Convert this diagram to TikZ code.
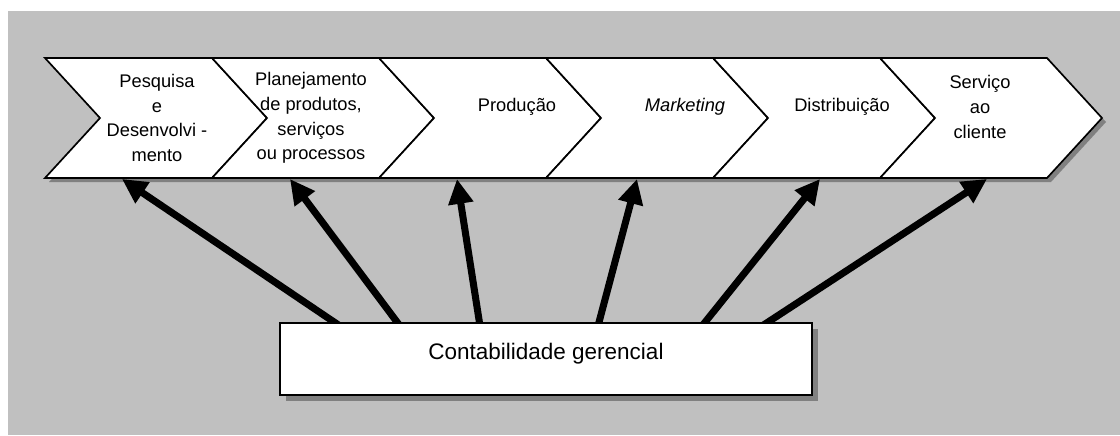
\documentclass[tikz,border=0pt]{standalone}
\usepackage{fontspec}
\setmainfont{Liberation Sans}
\usetikzlibrary{arrows.meta}
\definecolor{fundo}{HTML}{C0C0C0}
\definecolor{sombra}{HTML}{808080}
\begin{document}
\begin{tikzpicture}[x=0.025cm,y=-0.025cm,
  elo/.style={draw,line width=1.2pt,fill=white},
  rotulo/.style={align=center,font=\fontsize{13}{17.5}\selectfont},
  caixa/.style={draw,line width=1.2pt,fill=white,minimum width=13.3cm,minimum height=1.8cm,
    text height=0.38cm,text depth=0.38cm,font=\fontsize{16}{19}\selectfont},
  seta/.style={line width=5pt,-{Triangle[length=0.62cm,width=0.6cm]}}]
\useasboundingbox (0,0) rectangle (1120,435);
\fill[fundo] (8,11) rectangle (1120,435);
% sombra da cadeia de valor
\fill[sombra] (49,62) -- (1051,62) -- (1106,122) -- (1051,182) -- (49,182) -- (104,122) -- cycle;
\foreach \x in {45,212,...,880} {
  \draw[elo] (\x,58) -- ++(167,0) -- ++(55,60) -- ++(-55,60) -- ++(-167,0) -- ++(55,-60) -- cycle;
}
\node[rotulo] (pd) at (157,118) {Pesquisa\\e\\Desenvolvi -\\mento};
\node[rotulo] (pp) at (311,118) {Planejamento\\de produtos,\\serviços\\ou processos};
\node[rotulo] (prod) at (517,107) {Produção};
\node[rotulo] (mkt) at (685,107) {\textit{Marketing}};
\node[rotulo] (dist) at (842,107) {Distribuição};
\node[rotulo] (serv) at (980,107) {Serviço\\ao\\cliente};
% setas
\foreach \a/\b [count=\i] in {340/122,400/290,480/457,598/637,702/820,762/987} {
  \coordinate (o\i) at (\a,326);
  \coordinate (d\i) at (\b,179);
  \draw[seta] (o\i) -- (d\i);
}
\fill[sombra] (286,329) rectangle (818,401);
\node[caixa] (cg) at (546,359) {Contabilidade gerencial};
\end{tikzpicture}
\end{document}
